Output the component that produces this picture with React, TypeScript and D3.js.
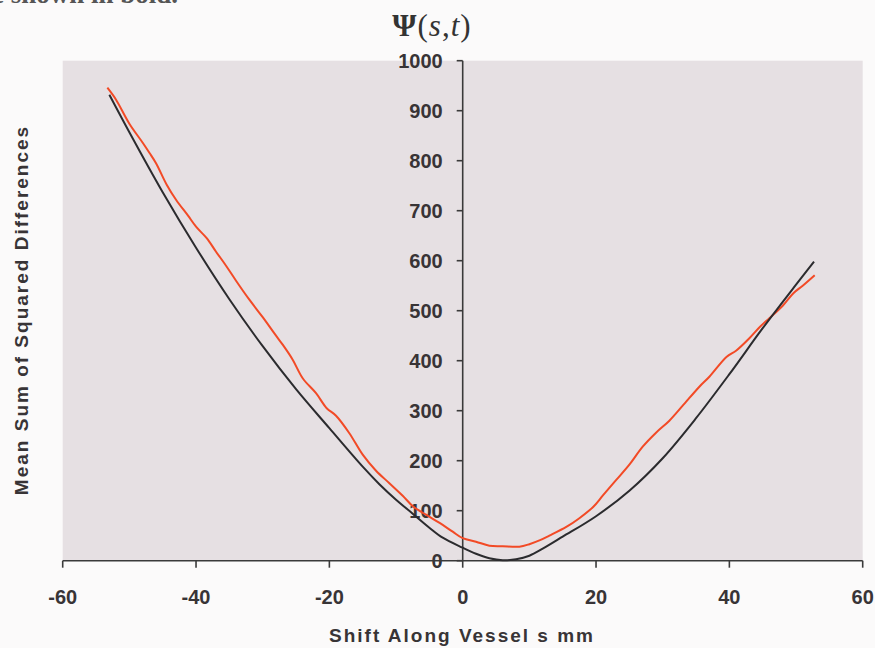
import React from "react";
import * as d3 from "d3";

const xTicks = [-60, -40, -20, 0, 20, 40, 60];
const yTicks = [0, 100, 200, 300, 400, 500, 600, 700, 800, 900, 1000];

const fitShift = [-53, -50, -45, -40, -35, -30, -25, -20, -15, -12.5, -10, -7.5, -5, -3, 0, 2, 4, 6, 8, 10, 12, 15, 20, 25, 30, 35, 40, 45, 50, 52.7];
const fitValue = [932, 857, 737, 626, 523, 429, 343, 265, 188, 153, 122, 94, 66, 46, 26, 14, 5, 1, 3, 10, 24, 48, 89, 140, 205, 285, 373, 465, 552, 598];

const measShift = [-53.3, -52, -50, -48, -47, -46, -44.4, -43, -41.2, -40, -38.4, -37, -35.5, -34, -32, -30, -28, -27, -25.5, -24, -22, -20.4, -19, -17, -15, -13, -11, -9, -7.4, -5.5, -3.4, -1.5, 0, 2, 4, 6, 8.5, 10, 11.6, 13, 15.6, 17.5, 19.6, 21, 23, 25, 27, 29, 31, 33, 35.5, 37, 39.6, 41, 43, 44.6, 46, 48, 49.6, 51, 52.8];
const measValue = [946, 922, 874, 836, 816, 795, 752, 722, 690, 668, 645, 618, 590, 560, 522, 487, 450, 432, 402, 365, 335, 305, 290, 255, 212, 180, 155, 130, 108, 92, 75, 58, 45, 38, 30, 29, 28, 33, 41, 50, 68, 85, 108, 130, 161, 192, 228, 256, 280, 310, 348, 368, 408, 420, 445, 468, 485, 510, 535, 550, 571];

export default function App() {
  const W = 875, H = 648;
  const x = d3.scaleLinear().domain([-60, 60]).range([62.7, 862.7]);
  const y = d3.scaleLinear().domain([0, 1000]).range([560.7, 60.7]);
  const line = d3
    .line<[number, number]>()
    .x((d) => x(d[0]))
    .y((d) => y(d[1]))
    .curve(d3.curveCatmullRom);
  const fitPts = fitShift.map((s, i) => [s, fitValue[i]] as [number, number]);
  const measPts = measShift.map((s, i) => [s, measValue[i]] as [number, number]);
  const textColor = "#383436";
  const font = "Liberation Sans, Arial, sans-serif";
  return (
    <svg width={W} height={H} style={{ position: "absolute", left: 0, top: 0, background: "#fbfafa" }}>
      <text x={-8} y={3} fontFamily="Liberation Serif, Times New Roman, serif" fontSize={27} fontWeight="bold" fill="#555">
        e shown in bold.
      </text>
      <rect x={x(-60)} y={y(1000)} width={x(60) - x(-60)} height={y(0) - y(1000)} fill="#e6e0e3" />
      <text x={432} y={36} textAnchor="middle" fontFamily="Liberation Serif, Times New Roman, serif" fontSize={31} fill="#333" letterSpacing={1}>
        <tspan fontWeight="bold">Ψ</tspan>
        <tspan>(</tspan>
        <tspan fontStyle="italic">s</tspan>
        <tspan>,</tspan>
        <tspan fontStyle="italic">t</tspan>
        <tspan>)</tspan>
      </text>
      {/* y axis */}
      <line x1={x(0)} x2={x(0)} y1={y(0)} y2={y(1000)} stroke="#3a3a3a" strokeWidth={1.6} />
      {yTicks.map((t) => (
        <g key={t}>
          <line x1={x(0) - 6} x2={x(0)} y1={y(t)} y2={y(t)} stroke="#3a3a3a" strokeWidth={1.6} />
          <text x={x(0) - 20} y={y(t) + 7} textAnchor="end" fontFamily={font} fontSize={20} fontWeight="bold" fill={textColor}>
            {t}
          </text>
        </g>
      ))}
      {/* x axis */}
      <line x1={x(-60)} x2={x(60)} y1={y(0)} y2={y(0)} stroke="#3a3a3a" strokeWidth={1.6} />
      {xTicks.map((t) => (
        <g key={t}>
          <line x1={x(t)} x2={x(t)} y1={y(0)} y2={y(0) + 7} stroke="#3a3a3a" strokeWidth={1.6} />
          <text x={x(t)} y={604} textAnchor="middle" fontFamily={font} fontSize={20} fontWeight="bold" fill={textColor}>
            {t}
          </text>
        </g>
      ))}
      <path d={line(measPts) || ""} fill="none" stroke="#f24a26" strokeWidth={2} />
      <path d={line(fitPts) || ""} fill="none" stroke="#2b2b2e" strokeWidth={2} />
      <text x={462} y={642} textAnchor="middle" fontFamily={font} fontSize={19} fontWeight="bold" fill={textColor} letterSpacing={2}>
        Shift Along Vessel s mm
      </text>
      <text transform="translate(28,310) rotate(-90)" textAnchor="middle" fontFamily={font} fontSize={19} fontWeight="bold" fill={textColor} letterSpacing={2}>
        Mean Sum of Squared Differences
      </text>
    </svg>
  );
}
